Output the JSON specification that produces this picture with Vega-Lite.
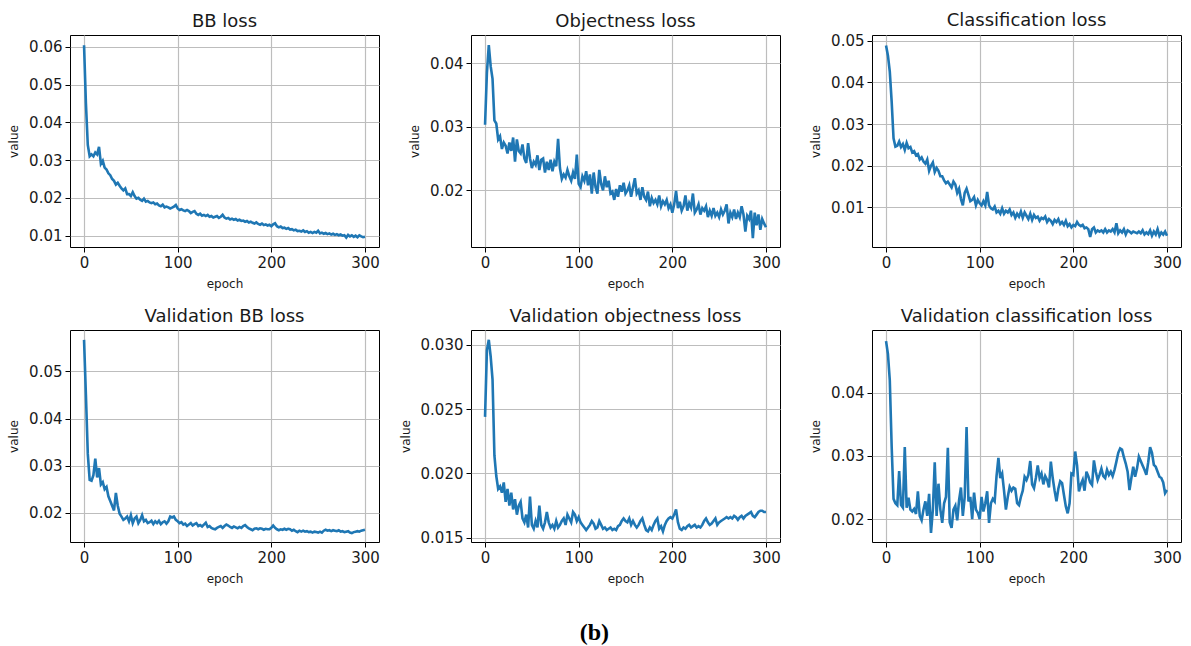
{
  "$schema": "https://vega.github.io/schema/vega-lite/v6.json",
  "background": "white",
  "padding": {"left": 7, "top": 11, "right": 5, "bottom": 5},
  "title": {"text": "(b)", "orient": "bottom", "anchor": "middle", "frame": "bounds", "font": "Liberation Serif", "fontSize": 24, "fontWeight": "bold", "color": "#000", "offset": 36},
  "columns": 3,
  "bounds": "flush",
  "spacing": {"row": 83, "column": 92},
  "data": {"values": [
{"epoch":0,"bb":0.0604,"obj":0.0303,"cls":0.0489,"vbb":0.0567,"vobj":0.0244,"vcls":0.0482},
{"epoch":2,"bb":0.045,"obj":0.0385,"cls":0.0465,"vbb":0.045,"vobj":0.0296,"vcls":0.0462},
{"epoch":4,"bb":0.034,"obj":0.0428,"cls":0.0426,"vbb":0.0325,"vobj":0.0304,"vcls":0.042},
{"epoch":6,"bb":0.031,"obj":0.0395,"cls":0.0354,"vbb":0.027,"vobj":0.0291,"vcls":0.0315},
{"epoch":8,"bb":0.0315,"obj":0.0375,"cls":0.0266,"vbb":0.0268,"vobj":0.0273,"vcls":0.0232},
{"epoch":10,"bb":0.031,"obj":0.031,"cls":0.0246,"vbb":0.028,"vobj":0.0214,"vcls":0.0225},
{"epoch":12,"bb":0.032,"obj":0.0305,"cls":0.0248,"vbb":0.0315,"vobj":0.0198,"vcls":0.0222},
{"epoch":14,"bb":0.0315,"obj":0.028,"cls":0.0258,"vbb":0.0275,"vobj":0.0188,"vcls":0.0276},
{"epoch":16,"bb":0.0335,"obj":0.0285,"cls":0.0245,"vbb":0.0295,"vobj":0.019,"vcls":0.0222},
{"epoch":18,"bb":0.029,"obj":0.0265,"cls":0.0252,"vbb":0.026,"vobj":0.0185,"vcls":0.0218},
{"epoch":20,"bb":0.0298,"obj":0.0275,"cls":0.0238,"vbb":0.0265,"vobj":0.0193,"vcls":0.0314},
{"epoch":22,"bb":0.028,"obj":0.027,"cls":0.0255,"vbb":0.025,"vobj":0.0178,"vcls":0.0218},
{"epoch":24,"bb":0.0275,"obj":0.0258,"cls":0.0242,"vbb":0.0255,"vobj":0.0188,"vcls":0.0234},
{"epoch":26,"bb":0.0265,"obj":0.0275,"cls":0.0245,"vbb":0.0235,"vobj":0.0175,"vcls":0.0215},
{"epoch":28,"bb":0.026,"obj":0.0262,"cls":0.0232,"vbb":0.0225,"vobj":0.0185,"vcls":0.0212},
{"epoch":30,"bb":0.025,"obj":0.0283,"cls":0.0235,"vbb":0.0215,"vobj":0.0172,"vcls":0.0216},
{"epoch":32,"bb":0.0245,"obj":0.0245,"cls":0.0225,"vbb":0.0205,"vobj":0.018,"vcls":0.0208},
{"epoch":34,"bb":0.0235,"obj":0.028,"cls":0.0228,"vbb":0.0242,"vobj":0.0168,"vcls":0.0244},
{"epoch":36,"bb":0.024,"obj":0.0262,"cls":0.0215,"vbb":0.0215,"vobj":0.0175,"vcls":0.0205},
{"epoch":38,"bb":0.0232,"obj":0.0258,"cls":0.022,"vbb":0.0198,"vobj":0.0178,"vcls":0.0198},
{"epoch":40,"bb":0.0225,"obj":0.0272,"cls":0.021,"vbb":0.0192,"vobj":0.0165,"vcls":0.0215},
{"epoch":42,"bb":0.022,"obj":0.025,"cls":0.0205,"vbb":0.0185,"vobj":0.0162,"vcls":0.0228},
{"epoch":44,"bb":0.0225,"obj":0.0243,"cls":0.0215,"vbb":0.0188,"vobj":0.0168,"vcls":0.0205},
{"epoch":46,"bb":0.021,"obj":0.0274,"cls":0.0188,"vbb":0.0192,"vobj":0.0158,"vcls":0.024},
{"epoch":48,"bb":0.021,"obj":0.025,"cls":0.02,"vbb":0.0182,"vobj":0.0182,"vcls":0.0178},
{"epoch":50,"bb":0.0205,"obj":0.0235,"cls":0.0208,"vbb":0.0195,"vobj":0.016,"vcls":0.0215},
{"epoch":52,"bb":0.0215,"obj":0.0245,"cls":0.0185,"vbb":0.0178,"vobj":0.0157,"vcls":0.029},
{"epoch":54,"bb":0.0205,"obj":0.024,"cls":0.0195,"vbb":0.0188,"vobj":0.0163,"vcls":0.0205},
{"epoch":56,"bb":0.0198,"obj":0.0255,"cls":0.0188,"vbb":0.0192,"vobj":0.0158,"vcls":0.0256},
{"epoch":58,"bb":0.02,"obj":0.0232,"cls":0.0175,"vbb":0.0178,"vobj":0.0175,"vcls":0.0215},
{"epoch":60,"bb":0.0195,"obj":0.0248,"cls":0.0175,"vbb":0.0185,"vobj":0.016,"vcls":0.0194},
{"epoch":62,"bb":0.0192,"obj":0.025,"cls":0.0165,"vbb":0.0195,"vobj":0.0157,"vcls":0.0225},
{"epoch":64,"bb":0.0198,"obj":0.0228,"cls":0.0158,"vbb":0.0182,"vobj":0.0162,"vcls":0.0235},
{"epoch":66,"bb":0.019,"obj":0.0245,"cls":0.0162,"vbb":0.0185,"vobj":0.017,"vcls":0.0313},
{"epoch":68,"bb":0.0192,"obj":0.0232,"cls":0.0155,"vbb":0.0178,"vobj":0.0162,"vcls":0.0195},
{"epoch":70,"bb":0.0188,"obj":0.0248,"cls":0.0148,"vbb":0.018,"vobj":0.0158,"vcls":0.0186},
{"epoch":72,"bb":0.0186,"obj":0.023,"cls":0.0162,"vbb":0.0183,"vobj":0.016,"vcls":0.0215},
{"epoch":74,"bb":0.0188,"obj":0.0245,"cls":0.0155,"vbb":0.0176,"vobj":0.0157,"vcls":0.0221},
{"epoch":76,"bb":0.0183,"obj":0.0238,"cls":0.0135,"vbb":0.0182,"vobj":0.0163,"vcls":0.0198},
{"epoch":78,"bb":0.0185,"obj":0.0281,"cls":0.0145,"vbb":0.0178,"vobj":0.0158,"vcls":0.023},
{"epoch":80,"bb":0.018,"obj":0.0235,"cls":0.012,"vbb":0.0183,"vobj":0.016,"vcls":0.025},
{"epoch":82,"bb":0.0178,"obj":0.0218,"cls":0.0105,"vbb":0.0176,"vobj":0.0163,"vcls":0.0205},
{"epoch":84,"bb":0.0182,"obj":0.0225,"cls":0.0135,"vbb":0.018,"vobj":0.0165,"vcls":0.0235},
{"epoch":86,"bb":0.0175,"obj":0.022,"cls":0.0145,"vbb":0.0182,"vobj":0.016,"vcls":0.0346},
{"epoch":88,"bb":0.0177,"obj":0.0232,"cls":0.013,"vbb":0.0177,"vobj":0.0168,"vcls":0.0228},
{"epoch":90,"bb":0.0175,"obj":0.0222,"cls":0.0115,"vbb":0.0182,"vobj":0.0165,"vcls":0.0235},
{"epoch":92,"bb":0.0172,"obj":0.0215,"cls":0.0118,"vbb":0.0192,"vobj":0.0162,"vcls":0.02},
{"epoch":94,"bb":0.0174,"obj":0.0228,"cls":0.0125,"vbb":0.019,"vobj":0.017,"vcls":0.0242},
{"epoch":96,"bb":0.0177,"obj":0.0218,"cls":0.0105,"vbb":0.0192,"vobj":0.0168,"vcls":0.0215},
{"epoch":98,"bb":0.0181,"obj":0.0256,"cls":0.0118,"vbb":0.0185,"vobj":0.0163,"vcls":0.021},
{"epoch":100,"bb":0.0172,"obj":0.021,"cls":0.011,"vbb":0.0182,"vobj":0.0166,"vcls":0.02},
{"epoch":102,"bb":0.0168,"obj":0.0205,"cls":0.0105,"vbb":0.0178,"vobj":0.0162,"vcls":0.0235},
{"epoch":104,"bb":0.017,"obj":0.0222,"cls":0.0115,"vbb":0.018,"vobj":0.016,"vcls":0.0212},
{"epoch":106,"bb":0.0167,"obj":0.0215,"cls":0.0105,"vbb":0.0175,"vobj":0.0158,"vcls":0.0225},
{"epoch":108,"bb":0.0165,"obj":0.023,"cls":0.0137,"vbb":0.0177,"vobj":0.0156,"vcls":0.0244},
{"epoch":110,"bb":0.0168,"obj":0.0208,"cls":0.0105,"vbb":0.0172,"vobj":0.0158,"vcls":0.0194},
{"epoch":112,"bb":0.0165,"obj":0.0225,"cls":0.0098,"vbb":0.0175,"vobj":0.016,"vcls":0.0225},
{"epoch":114,"bb":0.016,"obj":0.0195,"cls":0.0095,"vbb":0.0178,"vobj":0.0163,"vcls":0.0232},
{"epoch":116,"bb":0.0163,"obj":0.0228,"cls":0.0102,"vbb":0.0173,"vobj":0.0161,"vcls":0.0228},
{"epoch":118,"bb":0.0165,"obj":0.0205,"cls":0.0088,"vbb":0.0176,"vobj":0.0157,"vcls":0.0268},
{"epoch":120,"bb":0.0158,"obj":0.0195,"cls":0.0092,"vbb":0.0178,"vobj":0.0158,"vcls":0.0297},
{"epoch":122,"bb":0.0155,"obj":0.0232,"cls":0.0085,"vbb":0.0172,"vobj":0.0163,"vcls":0.0265},
{"epoch":124,"bb":0.0158,"obj":0.021,"cls":0.0098,"vbb":0.0174,"vobj":0.016,"vcls":0.0272},
{"epoch":126,"bb":0.0153,"obj":0.02,"cls":0.0085,"vbb":0.0171,"vobj":0.0157,"vcls":0.0245},
{"epoch":128,"bb":0.0155,"obj":0.0222,"cls":0.0092,"vbb":0.0175,"vobj":0.0158,"vcls":0.0215},
{"epoch":130,"bb":0.0152,"obj":0.0205,"cls":0.0088,"vbb":0.0179,"vobj":0.0156,"vcls":0.0235},
{"epoch":132,"bb":0.0155,"obj":0.0215,"cls":0.0095,"vbb":0.017,"vobj":0.0157,"vcls":0.0251},
{"epoch":134,"bb":0.015,"obj":0.0195,"cls":0.0082,"vbb":0.0172,"vobj":0.0158,"vcls":0.0245},
{"epoch":136,"bb":0.0152,"obj":0.0198,"cls":0.0088,"vbb":0.0168,"vobj":0.0156,"vcls":0.025},
{"epoch":138,"bb":0.0148,"obj":0.0185,"cls":0.0075,"vbb":0.0166,"vobj":0.0157,"vcls":0.0248},
{"epoch":140,"bb":0.015,"obj":0.0202,"cls":0.0085,"vbb":0.0165,"vobj":0.0156,"vcls":0.0225},
{"epoch":142,"bb":0.0152,"obj":0.019,"cls":0.0078,"vbb":0.0168,"vobj":0.0159,"vcls":0.0222},
{"epoch":144,"bb":0.0147,"obj":0.0208,"cls":0.009,"vbb":0.017,"vobj":0.016,"vcls":0.0235},
{"epoch":146,"bb":0.015,"obj":0.0198,"cls":0.0075,"vbb":0.0172,"vobj":0.0163,"vcls":0.0245},
{"epoch":148,"bb":0.0155,"obj":0.0212,"cls":0.0088,"vbb":0.0168,"vobj":0.0165,"vcls":0.0267},
{"epoch":150,"bb":0.0148,"obj":0.0195,"cls":0.008,"vbb":0.0172,"vobj":0.0163,"vcls":0.0262},
{"epoch":152,"bb":0.0145,"obj":0.02,"cls":0.0072,"vbb":0.0175,"vobj":0.0162,"vcls":0.027},
{"epoch":154,"bb":0.0147,"obj":0.0208,"cls":0.0085,"vbb":0.0173,"vobj":0.0165,"vcls":0.0292},
{"epoch":156,"bb":0.0143,"obj":0.019,"cls":0.007,"vbb":0.017,"vobj":0.016,"vcls":0.0255},
{"epoch":158,"bb":0.0145,"obj":0.0205,"cls":0.0082,"vbb":0.0168,"vobj":0.0163,"vcls":0.0249},
{"epoch":160,"bb":0.0142,"obj":0.0219,"cls":0.0075,"vbb":0.0171,"vobj":0.016,"vcls":0.0265},
{"epoch":162,"bb":0.0144,"obj":0.0195,"cls":0.0078,"vbb":0.0169,"vobj":0.0158,"vcls":0.0285},
{"epoch":164,"bb":0.014,"obj":0.02,"cls":0.0068,"vbb":0.0167,"vobj":0.016,"vcls":0.0265},
{"epoch":166,"bb":0.0142,"obj":0.0185,"cls":0.0075,"vbb":0.017,"vobj":0.0163,"vcls":0.0272},
{"epoch":168,"bb":0.0139,"obj":0.0205,"cls":0.0072,"vbb":0.0168,"vobj":0.0165,"vcls":0.0255},
{"epoch":170,"bb":0.014,"obj":0.019,"cls":0.0078,"vbb":0.0172,"vobj":0.016,"vcls":0.0268},
{"epoch":172,"bb":0.0137,"obj":0.0185,"cls":0.0065,"vbb":0.0174,"vobj":0.0156,"vcls":0.0262},
{"epoch":174,"bb":0.0139,"obj":0.0198,"cls":0.0072,"vbb":0.017,"vobj":0.0155,"vcls":0.025},
{"epoch":176,"bb":0.0135,"obj":0.0175,"cls":0.0068,"vbb":0.0167,"vobj":0.0158,"vcls":0.0291},
{"epoch":178,"bb":0.0137,"obj":0.0188,"cls":0.006,"vbb":0.0165,"vobj":0.0156,"vcls":0.0265},
{"epoch":180,"bb":0.0134,"obj":0.018,"cls":0.007,"vbb":0.0163,"vobj":0.016,"vcls":0.0245},
{"epoch":182,"bb":0.0132,"obj":0.0185,"cls":0.0065,"vbb":0.0166,"vobj":0.0163,"vcls":0.0228},
{"epoch":184,"bb":0.0135,"obj":0.0178,"cls":0.0072,"vbb":0.0167,"vobj":0.0165,"vcls":0.0248},
{"epoch":186,"bb":0.0131,"obj":0.0192,"cls":0.006,"vbb":0.0165,"vobj":0.0157,"vcls":0.026},
{"epoch":188,"bb":0.0129,"obj":0.0175,"cls":0.0065,"vbb":0.0167,"vobj":0.0159,"vcls":0.0257},
{"epoch":190,"bb":0.0132,"obj":0.0183,"cls":0.0058,"vbb":0.0166,"vobj":0.0155,"vcls":0.0238},
{"epoch":192,"bb":0.0128,"obj":0.0178,"cls":0.0068,"vbb":0.0164,"vobj":0.016,"vcls":0.022},
{"epoch":194,"bb":0.013,"obj":0.0185,"cls":0.0055,"vbb":0.0166,"vobj":0.0163,"vcls":0.0209},
{"epoch":196,"bb":0.0127,"obj":0.0172,"cls":0.006,"vbb":0.0165,"vobj":0.0165,"vcls":0.0225},
{"epoch":198,"bb":0.0129,"obj":0.0178,"cls":0.0052,"vbb":0.0165,"vobj":0.0166,"vcls":0.0272},
{"epoch":200,"bb":0.0125,"obj":0.0165,"cls":0.0058,"vbb":0.0168,"vobj":0.0165,"vcls":0.027},
{"epoch":202,"bb":0.013,"obj":0.0178,"cls":0.0055,"vbb":0.0173,"vobj":0.0168,"vcls":0.0307},
{"epoch":204,"bb":0.0133,"obj":0.0199,"cls":0.0065,"vbb":0.0168,"vobj":0.0172,"vcls":0.0285},
{"epoch":206,"bb":0.0125,"obj":0.0172,"cls":0.0058,"vbb":0.0165,"vobj":0.0162,"vcls":0.0244},
{"epoch":208,"bb":0.0122,"obj":0.0182,"cls":0.0055,"vbb":0.0163,"vobj":0.0157,"vcls":0.0255},
{"epoch":210,"bb":0.0124,"obj":0.0168,"cls":0.0058,"vbb":0.0165,"vobj":0.0156,"vcls":0.0262},
{"epoch":212,"bb":0.012,"obj":0.0175,"cls":0.005,"vbb":0.0164,"vobj":0.0158,"vcls":0.0245},
{"epoch":214,"bb":0.0121,"obj":0.0192,"cls":0.0052,"vbb":0.0166,"vobj":0.0157,"vcls":0.0275},
{"epoch":216,"bb":0.0118,"obj":0.0168,"cls":0.0048,"vbb":0.0164,"vobj":0.0159,"vcls":0.0268},
{"epoch":218,"bb":0.012,"obj":0.018,"cls":0.0029,"vbb":0.0166,"vobj":0.016,"vcls":0.0258},
{"epoch":220,"bb":0.0116,"obj":0.0173,"cls":0.0048,"vbb":0.0165,"vobj":0.0158,"vcls":0.0254},
{"epoch":222,"bb":0.0117,"obj":0.0195,"cls":0.0052,"vbb":0.0162,"vobj":0.0159,"vcls":0.0293},
{"epoch":224,"bb":0.0114,"obj":0.0165,"cls":0.004,"vbb":0.0164,"vobj":0.016,"vcls":0.0275},
{"epoch":226,"bb":0.0116,"obj":0.017,"cls":0.0045,"vbb":0.0161,"vobj":0.0158,"vcls":0.0262},
{"epoch":228,"bb":0.0112,"obj":0.0178,"cls":0.0042,"vbb":0.0159,"vobj":0.0159,"vcls":0.027},
{"epoch":230,"bb":0.0113,"obj":0.0162,"cls":0.0045,"vbb":0.0162,"vobj":0.0158,"vcls":0.028},
{"epoch":232,"bb":0.0111,"obj":0.0172,"cls":0.004,"vbb":0.016,"vobj":0.016,"vcls":0.0268},
{"epoch":234,"bb":0.0114,"obj":0.0168,"cls":0.0048,"vbb":0.0162,"vobj":0.0163,"vcls":0.0265},
{"epoch":236,"bb":0.011,"obj":0.0175,"cls":0.004,"vbb":0.016,"vobj":0.0165,"vcls":0.0278},
{"epoch":238,"bb":0.0112,"obj":0.0158,"cls":0.0045,"vbb":0.0161,"vobj":0.0162,"vcls":0.027},
{"epoch":240,"bb":0.0108,"obj":0.0168,"cls":0.0042,"vbb":0.0159,"vobj":0.016,"vcls":0.0275},
{"epoch":242,"bb":0.011,"obj":0.016,"cls":0.0048,"vbb":0.016,"vobj":0.0161,"vcls":0.0268},
{"epoch":244,"bb":0.0107,"obj":0.0172,"cls":0.004,"vbb":0.0158,"vobj":0.0163,"vcls":0.0278},
{"epoch":246,"bb":0.011,"obj":0.016,"cls":0.0062,"vbb":0.016,"vobj":0.0165,"vcls":0.0291},
{"epoch":248,"bb":0.0108,"obj":0.0165,"cls":0.0038,"vbb":0.0159,"vobj":0.016,"vcls":0.0305},
{"epoch":250,"bb":0.0113,"obj":0.0158,"cls":0.0045,"vbb":0.0158,"vobj":0.0162,"vcls":0.0312},
{"epoch":252,"bb":0.0106,"obj":0.017,"cls":0.004,"vbb":0.016,"vobj":0.0163,"vcls":0.031},
{"epoch":254,"bb":0.0108,"obj":0.0162,"cls":0.0048,"vbb":0.0158,"vobj":0.0164,"vcls":0.0298},
{"epoch":256,"bb":0.0105,"obj":0.0168,"cls":0.0035,"vbb":0.0162,"vobj":0.0165,"vcls":0.0288},
{"epoch":258,"bb":0.0107,"obj":0.0178,"cls":0.0045,"vbb":0.0164,"vobj":0.0166,"vcls":0.0275},
{"epoch":260,"bb":0.0104,"obj":0.0148,"cls":0.0042,"vbb":0.0162,"vobj":0.0165,"vcls":0.0246},
{"epoch":262,"bb":0.0106,"obj":0.0165,"cls":0.0038,"vbb":0.0163,"vobj":0.0166,"vcls":0.0265},
{"epoch":264,"bb":0.0103,"obj":0.0158,"cls":0.0042,"vbb":0.0161,"vobj":0.0165,"vcls":0.0283},
{"epoch":266,"bb":0.0105,"obj":0.017,"cls":0.004,"vbb":0.0163,"vobj":0.0167,"vcls":0.0267},
{"epoch":268,"bb":0.0102,"obj":0.0155,"cls":0.0038,"vbb":0.0162,"vobj":0.0166,"vcls":0.028},
{"epoch":270,"bb":0.0104,"obj":0.0165,"cls":0.0042,"vbb":0.0161,"vobj":0.0164,"vcls":0.0299},
{"epoch":272,"bb":0.0101,"obj":0.0158,"cls":0.0038,"vbb":0.0163,"vobj":0.0166,"vcls":0.0292},
{"epoch":274,"bb":0.0103,"obj":0.0175,"cls":0.0045,"vbb":0.016,"vobj":0.0167,"vcls":0.0285},
{"epoch":276,"bb":0.01,"obj":0.0162,"cls":0.0035,"vbb":0.0161,"vobj":0.0165,"vcls":0.0278},
{"epoch":278,"bb":0.0101,"obj":0.0135,"cls":0.004,"vbb":0.0159,"vobj":0.0167,"vcls":0.027},
{"epoch":280,"bb":0.0095,"obj":0.016,"cls":0.0036,"vbb":0.016,"vobj":0.0168,"vcls":0.029},
{"epoch":282,"bb":0.0102,"obj":0.0155,"cls":0.0045,"vbb":0.0161,"vobj":0.0169,"vcls":0.0314},
{"epoch":284,"bb":0.0098,"obj":0.0168,"cls":0.0032,"vbb":0.0158,"vobj":0.017,"vcls":0.0305},
{"epoch":286,"bb":0.0101,"obj":0.0125,"cls":0.0042,"vbb":0.0157,"vobj":0.0167,"vcls":0.0286},
{"epoch":288,"bb":0.0097,"obj":0.0165,"cls":0.0035,"vbb":0.0159,"vobj":0.0166,"vcls":0.0283},
{"epoch":290,"bb":0.01,"obj":0.0145,"cls":0.0048,"vbb":0.016,"vobj":0.0168,"vcls":0.0275},
{"epoch":292,"bb":0.0096,"obj":0.0162,"cls":0.0032,"vbb":0.0161,"vobj":0.017,"vcls":0.0267},
{"epoch":294,"bb":0.0101,"obj":0.0138,"cls":0.004,"vbb":0.016,"vobj":0.0171,"vcls":0.0265},
{"epoch":296,"bb":0.0098,"obj":0.0155,"cls":0.0035,"vbb":0.0162,"vobj":0.0171,"vcls":0.0258},
{"epoch":298,"bb":0.0096,"obj":0.0148,"cls":0.0042,"vbb":0.0163,"vobj":0.017,"vcls":0.0241},
{"epoch":300,"bb":0.0097,"obj":0.0142,"cls":0.0032,"vbb":0.0164,"vobj":0.017,"vcls":0.0246}
  ]},
  "concat": [
    {"width": 309, "height": 212, "title": "BB loss",
     "mark": {"type": "line", "color": "#1f77b4", "strokeWidth": 2.6},
     "encoding": {
       "x": {"field": "epoch", "type": "quantitative", "title": "epoch", "scale": {"domain": [-15, 315], "nice": false, "zero": false}, "axis": {"values": [0, 100, 200, 300]}},
       "y": {"field": "bb", "type": "quantitative", "title": "value", "scale": {"domain": [0.007, 0.0631], "nice": false, "zero": false}, "axis": {"values": [0.01, 0.02, 0.03, 0.04, 0.05, 0.06], "format": ".2f"}}
     }},
    {"width": 309, "height": 212, "title": "Objectness loss",
     "mark": {"type": "line", "color": "#1f77b4", "strokeWidth": 2.6},
     "encoding": {
       "x": {"field": "epoch", "type": "quantitative", "title": "epoch", "scale": {"domain": [-15, 315], "nice": false, "zero": false}, "axis": {"values": [0, 100, 200, 300]}},
       "y": {"field": "obj", "type": "quantitative", "title": "value", "scale": {"domain": [0.0111, 0.0444], "nice": false, "zero": false}, "axis": {"values": [0.02, 0.03, 0.04], "format": ".2f"}}
     }},
    {"width": 309, "height": 212, "title": "Classification loss",
     "mark": {"type": "line", "color": "#1f77b4", "strokeWidth": 2.6},
     "encoding": {
       "x": {"field": "epoch", "type": "quantitative", "title": "epoch", "scale": {"domain": [-15, 315], "nice": false, "zero": false}, "axis": {"values": [0, 100, 200, 300]}},
       "y": {"field": "cls", "type": "quantitative", "title": "value", "scale": {"domain": [0.0005, 0.0514], "nice": false, "zero": false}, "axis": {"values": [0.01, 0.02, 0.03, 0.04, 0.05], "format": ".2f"}}
     }},
    {"width": 309, "height": 212, "title": "Validation BB loss",
     "mark": {"type": "line", "color": "#1f77b4", "strokeWidth": 2.6},
     "encoding": {
       "x": {"field": "epoch", "type": "quantitative", "title": "epoch", "scale": {"domain": [-15, 315], "nice": false, "zero": false}, "axis": {"values": [0, 100, 200, 300]}},
       "y": {"field": "vbb", "type": "quantitative", "title": "value", "scale": {"domain": [0.0138, 0.0588], "nice": false, "zero": false}, "axis": {"values": [0.02, 0.03, 0.04, 0.05], "format": ".2f"}}
     }},
    {"width": 309, "height": 212, "title": "Validation objectness loss",
     "mark": {"type": "line", "color": "#1f77b4", "strokeWidth": 2.6},
     "encoding": {
       "x": {"field": "epoch", "type": "quantitative", "title": "epoch", "scale": {"domain": [-15, 315], "nice": false, "zero": false}, "axis": {"values": [0, 100, 200, 300]}},
       "y": {"field": "vobj", "type": "quantitative", "title": "value", "scale": {"domain": [0.01467, 0.03116], "nice": false, "zero": false}, "axis": {"values": [0.015, 0.02, 0.025, 0.03], "format": ".3f"}}
     }},
    {"width": 309, "height": 212, "title": "Validation classification loss",
     "mark": {"type": "line", "color": "#1f77b4", "strokeWidth": 2.6},
     "encoding": {
       "x": {"field": "epoch", "type": "quantitative", "title": "epoch", "scale": {"domain": [-15, 315], "nice": false, "zero": false}, "axis": {"values": [0, 100, 200, 300]}},
       "y": {"field": "vcls", "type": "quantitative", "title": "value", "scale": {"domain": [0.01636, 0.04997], "nice": false, "zero": false}, "axis": {"values": [0.02, 0.03, 0.04], "format": ".2f"}}
     }}
  ],
  "config": {
    "font": "DejaVu Sans",
    "view": {"stroke": "#000", "strokeWidth": 1},
    "axis": {"grid": true, "gridColor": "#bdbdbd", "gridWidth": 1.2, "domain": false, "ticks": true, "tickColor": "#000", "tickSize": 5, "tickWidth": 1,
             "labelFont": "DejaVu Sans", "labelFontSize": 15, "labelColor": "#1a1a1a", "labelPadding": 3, "labelFlush": false, "labelOverlap": false,
             "titleFont": "DejaVu Sans", "titleFontSize": 12, "titleFontWeight": "normal", "titleColor": "#1a1a1a", "titlePadding": 8},
    "title": {"font": "DejaVu Sans", "fontSize": 18, "fontWeight": "normal", "color": "#1a1a1a", "frame": "group", "anchor": "middle", "offset": 4}
  }
}
